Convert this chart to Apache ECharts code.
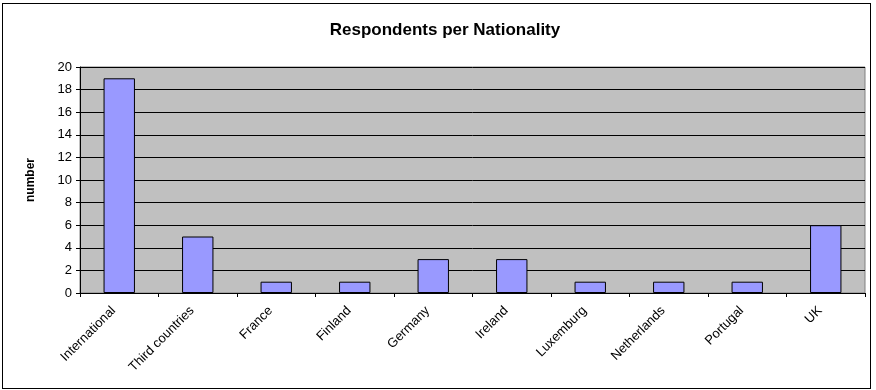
<!DOCTYPE html>
<html><head><meta charset="utf-8">
<script src="https://cdn.jsdelivr.net/npm/echarts@6/dist/echarts.min.js"></script>
<style>html,body{margin:0;padding:0;background:#fff}#c{width:876px;height:390px}
#frame{position:absolute;left:2px;top:3px;width:867px;height:384px;border:1px solid #000;pointer-events:none}</style>
</head><body><div id="c"></div><div id="frame"></div>
<script>
const categories = ["International","Third countries","France","Finland","Germany","Ireland","Luxemburg","Netherlands","Portugal","UK"];
const values = [19,5,1,1,3,3,1,1,1,6];
const chart = echarts.init(document.getElementById('c'));
const font = '"Liberation Sans", Arial, sans-serif';
chart.setOption({
  animation:false,
  title:{text:'Respondents per Nationality',left:440,top:17,textAlign:'center',
    textStyle:{fontFamily:font,fontSize:17,fontWeight:'bold',color:'#000'}},
  grid:{left:80,right:11,top:67,bottom:97,show:true,backgroundColor:'#C0C0C0',borderColor:'#808080',borderWidth:1},
  xAxis:{type:'category',data:categories,boundaryGap:true,
    axisLine:{lineStyle:{color:'#000',width:1}},
    axisTick:{show:true,alignWithLabel:false,length:4,lineStyle:{color:'#000'}},
    axisLabel:{rotate:45,fontFamily:font,fontSize:13,color:'#000',margin:10,interval:0,padding:[0,8,0,0]}},
  yAxis:{type:'value',min:0,max:20,interval:2,name:'number',nameLocation:'middle',nameGap:43,
    nameTextStyle:{fontFamily:font,fontSize:12,fontWeight:'bold',color:'#000'},
    axisLine:{show:true,lineStyle:{color:'#000'}},
    axisTick:{show:true,length:4,lineStyle:{color:'#000'}},
    axisLabel:{fontFamily:font,fontSize:13,color:'#000',margin:8},
    splitLine:{lineStyle:{color:'#000',width:1}}},
  series:[{type:'bar',data:values,barWidth:'40%',
    itemStyle:{color:'#9999FF',borderColor:'#000',borderWidth:1}}]
});
</script></body></html>
